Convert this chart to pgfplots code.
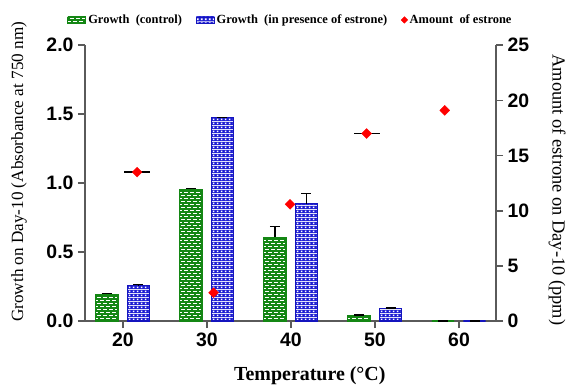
\documentclass[border=0pt]{standalone}
\usepackage{fontspec}
\setmainfont{Liberation Serif}
\newfontfamily\arialfont{Liberation Sans}
\usepackage{pgfplots}
\pgfplotsset{compat=1.18}
\usetikzlibrary{patterns}
\definecolor{axgray}{RGB}{90,90,90}
\definecolor{grn}{RGB}{20,135,20}
\definecolor{chkblue}{RGB}{30,30,210}
\definecolor{bedge}{RGB}{20,20,190}
\pgfdeclarepatternformonly{mybricks}{\pgfqpoint{-0.6bp}{-0.6bp}}{\pgfqpoint{6.6bp}{6.6bp}}{\pgfqpoint{6bp}{6bp}}{%
  \pgfsetlinewidth{1.1bp}%
  \pgfpathmoveto{\pgfqpoint{-0.6bp}{0bp}}\pgfpathlineto{\pgfqpoint{6.6bp}{0bp}}%
  \pgfpathmoveto{\pgfqpoint{-0.6bp}{3bp}}\pgfpathlineto{\pgfqpoint{6.6bp}{3bp}}%
  \pgfpathmoveto{\pgfqpoint{0bp}{0bp}}\pgfpathlineto{\pgfqpoint{0bp}{3bp}}%
  \pgfpathmoveto{\pgfqpoint{6bp}{0bp}}\pgfpathlineto{\pgfqpoint{6bp}{3bp}}%
  \pgfpathmoveto{\pgfqpoint{3bp}{3bp}}\pgfpathlineto{\pgfqpoint{3bp}{6bp}}%
  \pgfusepath{stroke}}
\pgfdeclarepatterninherentlycolored{mychecker}{\pgfpointorigin}{\pgfqpoint{4bp}{4bp}}{\pgfqpoint{4bp}{4bp}}{%
  \pgfsetfillcolor{chkblue}%
  \pgfpathrectangle{\pgfpointorigin}{\pgfqpoint{4bp}{4bp}}\pgfusepath{fill}%
  \pgfsetfillcolor{white}%
  \pgfpathrectangle{\pgfqpoint{1bp}{1bp}}{\pgfqpoint{2bp}{2bp}}\pgfusepath{fill}}
\pgfplotsset{boxlegend/.style={legend image code/.code={\draw[##1, line width=0.8bp] (0bp,-3bp) rectangle (18bp,3bp);}}}
\newcommand{\tickfont}{\arialfont\bfseries\fontsize{19.5}{21}\selectfont}
\begin{document}
\begin{tikzpicture}
\useasboundingbox (-85bp,-68bp) rectangle (482bp,321bp);
\begin{axis}[
  scale only axis, width=411bp, height=275.7bp,
  xmin=15.5, xmax=64.4, ymin=0, ymax=2,
  axis x line*=bottom, axis y line*=left,
  axis line style={line width=1.6bp, draw=axgray},
  every tick/.style={draw=axgray, line width=1.6bp},
  major tick length=7bp, tick align=outside,
  xtick={20,30,40,50,60}, xticklabels={20,30,40,50,60},
  ytick={0,0.5,1,1.5,2}, yticklabels={0.0,0.5,1.0,1.5,2.0},
  tick label style={font=\tickfont},
  xticklabel style={yshift=-1bp},
  yticklabel style={xshift=-1bp},
  xlabel={Temperature (°C)},
  xlabel style={font=\bfseries\fontsize{20}{22}\selectfont, at={(axis description cs:0.547,0)}, yshift=-55bp, anchor=center},
  ylabel={Growth on Day-10 (Absorbance at 750 nm)},
  ylabel style={font=\fontsize{17.2}{19}\selectfont, at={(axis description cs:-0.1606,0.541)}, anchor=center},
  legend columns=3,
  legend style={at={(0.5,1)}, anchor=south, yshift=16bp, draw=none, fill=none,
    font=\bfseries\fontsize{12.5}{14}\selectfont,
    /tikz/every even column/.append style={column sep=12bp}},
  clip=false,
]
\addplot[ybar, bar width=2.65, bar shift=0, draw=grn, line width=1.2bp,
  pattern=mybricks, pattern color=grn, boxlegend,
  error bars/.cd, y dir=plus, y explicit,
  error bar style={draw=black, line width=1.2bp},
  error mark options={rotate=90, mark size=5bp, line width=1.2bp, draw=black}]
  coordinates {(18.1,0.195) +- (0,0.006) (28.1,0.954) +- (0,0.008) (38.1,0.607) +- (0,0.081) (48.1,0.037) +- (0,0.006) (58.1,0) +- (0,0)};
\addlegendentry{Growth\ \ (control)}
\addplot[ybar, bar width=2.65, bar shift=0, draw=bedge, line width=1.2bp,
  pattern=mychecker, boxlegend,
  error bars/.cd, y dir=plus, y explicit,
  error bar style={draw=black, line width=1.2bp},
  error mark options={rotate=90, mark size=5bp, line width=1.2bp, draw=black}]
  coordinates {(21.85,0.256) +- (0,0.006) (31.85,1.475) +- (0,0) (41.85,0.851) +- (0,0.076) (51.85,0.09) +- (0,0.005) (61.85,0) +- (0,0)};
\addlegendentry{Growth\ \ (in presence of estrone)}
\addlegendimage{only marks, mark=square*, mark options={rotate=45, fill=red, draw=red}, mark size=2.3bp}
\addlegendentry{Amount\ \ of estrone}
\end{axis}
\begin{axis}[
  scale only axis, width=411bp, height=275.7bp,
  xmin=15.5, xmax=64.4, ymin=0, ymax=25,
  axis x line=none, axis y line*=right,
  axis line style={line width=1.6bp, draw=axgray},
  every tick/.style={draw=axgray, line width=1.6bp},
  major tick length=7bp, tick align=outside,
  ytick={0,5,10,15,20,25}, yticklabels={0,5,10,15,20,25},
  tick label style={font=\tickfont},
  yticklabel style={xshift=1bp},
  ylabel={Amount of estrone on Day-10 (ppm)},
  ylabel style={font=\fontsize{18.5}{20}\selectfont, at={(axis description cs:1.1485,0.475)}, anchor=center, rotate=180},
  clip=false,
]
\addplot[draw=none, mark=none, forget plot,
  error bars/.cd, x dir=both, x explicit, error mark=none,
  error bar style={draw=black, line width=1.4bp}]
  coordinates {(21.7,13.5) +- (1.55,0) (49.0,17.0) +- (1.55,0)};
\addplot[only marks, mark=square*, mark options={rotate=45, fill=red, draw=red}, mark size=3.5bp]
  coordinates {(21.7,13.5) (30.8,2.57) (39.9,10.58) (49.0,17.0) (58.3,19.1)};
\end{axis}
\end{tikzpicture}
\end{document}
